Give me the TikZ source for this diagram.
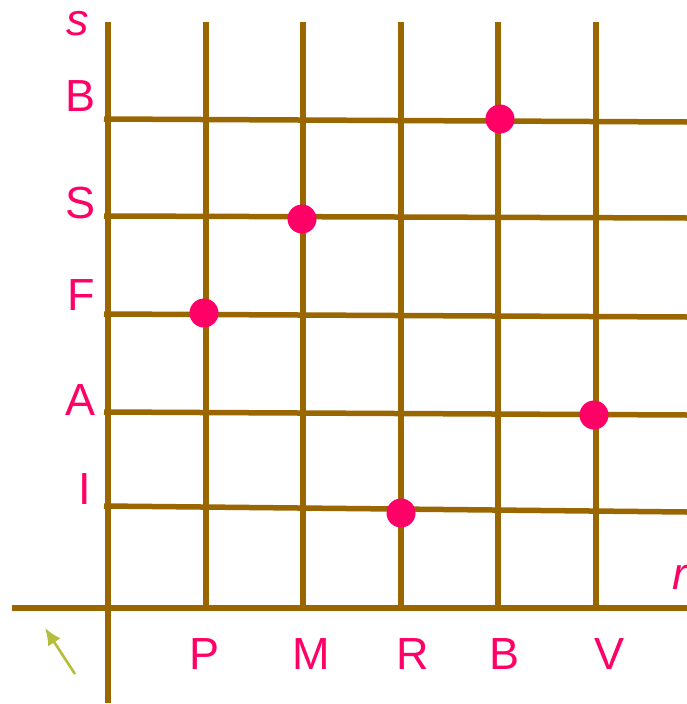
\documentclass[tikz,border=0pt]{standalone}
\usepackage{fontspec}
\setmainfont{Liberation Sans}
\usetikzlibrary{arrows.meta}
\begin{document}
\begin{tikzpicture}[x=1pt,y=-1pt,
  grid/.style={draw={rgb,255:red,153;green,102;blue,0},line width=5.5pt},
  lbl/.style={text={rgb,255:red,255;green,0;blue,102},font=\fontsize{45}{50}\selectfont,inner sep=0pt},
  dot/.style={circle,fill={rgb,255:red,255;green,0;blue,102},minimum size=29pt,inner sep=0pt}]
\useasboundingbox (0,0) rectangle (687,704);
% vertical grid lines
\foreach \x in {206,303,401,498,596} \draw[grid] (\x,22) -- (\x,607);
% horizontal grid lines
\draw[grid] (104,119) -- (687,122);
\draw[grid] (104,216) -- (687,218);
\draw[grid] (104,314) -- (687,317);
\draw[grid] (104,412) -- (687,415);
\draw[grid] (104,506) -- (687,512);
% axes
\coordinate (ytop) at (108,22);
\coordinate (ybot) at (108,703);
\coordinate (xl) at (12,608);
\coordinate (xr) at (687,608);
\draw[grid] (ytop) -- (ybot);
\draw[grid] (xl) -- (xr);
% dots
\node[dot] (d1) at (500,119) {};
\node[dot] (d2) at (302,219) {};
\node[dot] (d3) at (204,313) {};
\node[dot] (d4) at (594,415) {};
\node[dot] (d5) at (401,513) {};
% labels
\node[lbl,font=\fontsize{45}{50}\selectfont\itshape] (s) at (78,24) {s};
\node[lbl] (lB) at (81,96) {B};
\node[lbl] (lS) at (81,203) {S};
\node[lbl] (lF) at (81,295) {F};
\node[lbl] (lA) at (81,400) {A};
\node[lbl] (lI) at (85,489) {I};
\node[lbl,font=\fontsize{45}{50}\selectfont\itshape] (r) at (680,577) {r};
\node[lbl] (lP) at (205,654) {P};
\node[lbl] (lM) at (311,654) {M};
\node[lbl] (lR) at (413,654) {R};
\node[lbl] (lB2) at (505,654) {B};
\node[lbl] (lV) at (609,654) {V};
% arrow
\coordinate (a1) at (75,674);
\coordinate (a2) at (45,628);
\draw[draw={rgb,255:red,180;green,190;blue,60},line width=2.6pt,-{Latex[length=17pt,width=15pt]}] (a1) -- (a2);
\end{tikzpicture}
\end{document}
